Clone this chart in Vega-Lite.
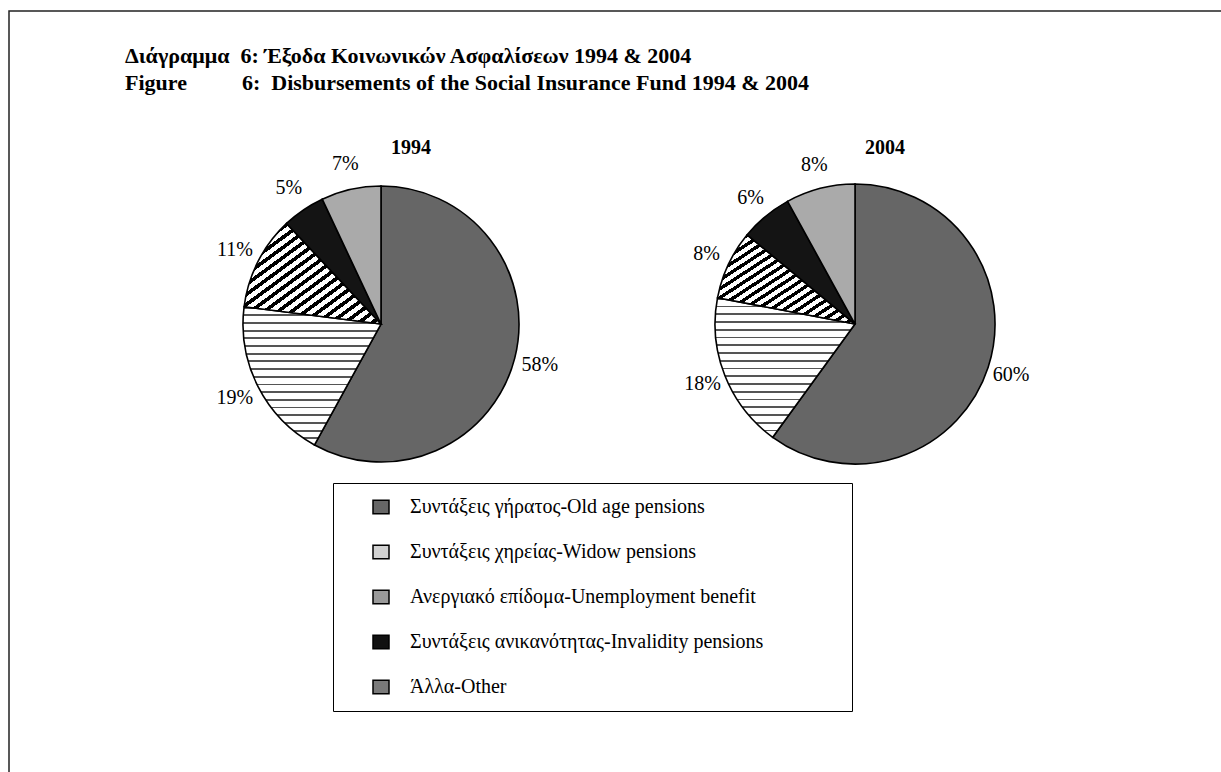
{
  "$schema": "https://vega.github.io/schema/vega-lite/v6.json",
  "width": 1213,
  "height": 762,
  "autosize": {"type": "none"},
  "padding": {"left": 9, "top": 11, "right": -1, "bottom": -1},
  "background": "white",
  "title": {
    "text": [
      "Διάγραμμα\u00a0 6: Έξοδα Κοινωνικών Ασφαλίσεων 1994 & 2004",
      "Figure\u00a0\u00a0\u00a0\u00a0\u00a0\u00a0\u00a0\u00a0\u00a0 6:\u00a0 Disbursements of the Social Insurance Fund 1994 & 2004"
    ],
    "anchor": "start",
    "frame": "group",
    "font": "Liberation Serif",
    "fontSize": 22,
    "fontWeight": "bold",
    "color": "black",
    "lineHeight": 27,
    "baseline": "top",
    "offset": 0,
    "dx": 116,
    "dy": 84
  },
  "data": {
    "values": [
      {"year": "1994", "cat": "Συντάξεις γήρατος-Old age pensions", "ord": 1, "v": 0.58},
      {"year": "1994", "cat": "Συντάξεις χηρείας-Widow pensions", "ord": 2, "v": 0.19},
      {"year": "1994", "cat": "Άλλα-Other", "ord": 3, "v": 0.11},
      {"year": "1994", "cat": "Συντάξεις ανικανότητας-Invalidity pensions", "ord": 4, "v": 0.05},
      {"year": "1994", "cat": "Ανεργιακό επίδομα-Unemployment benefit", "ord": 5, "v": 0.07},
      {"year": "2004", "cat": "Συντάξεις γήρατος-Old age pensions", "ord": 1, "v": 0.60},
      {"year": "2004", "cat": "Συντάξεις χηρείας-Widow pensions", "ord": 2, "v": 0.18},
      {"year": "2004", "cat": "Άλλα-Other", "ord": 3, "v": 0.08},
      {"year": "2004", "cat": "Συντάξεις ανικανότητας-Invalidity pensions", "ord": 4, "v": 0.06},
      {"year": "2004", "cat": "Ανεργιακό επίδομα-Unemployment benefit", "ord": 5, "v": 0.08}
    ]
  },
  "encoding": {
    "x": {"field": "year", "type": "nominal", "scale": {"type": "point", "domain": ["1994", "2004"], "padding": 0.7795, "align": 0.5034}, "axis": null},
    "y": {"datum": "pies", "type": "nominal", "scale": {"type": "point", "align": 0.4108}, "axis": null}
  },
  "layer": [
    {
      "transform": [{"filter": "datum.year === '1994'"}],
      "mark": {"type": "arc", "outerRadius": 138, "stroke": "black", "strokeWidth": 1.6},
      "encoding": {
        "theta": {"field": "v", "type": "quantitative", "stack": true, "scale": {"domain": [0, 1]}},
        "order": {"field": "ord", "type": "quantitative", "sort": "ascending"},
        "detail": {"field": "cat", "type": "nominal"},
        "fill": {
          "condition": [
            {"test": "datum.ord === 2", "value": {"gradient": "linear", "x1": 0, "y1": 0, "x2": 0, "y2": 1, "stops": [
                {"offset": 0, "color": "#555"}, {"offset": 0.0139, "color": "#555"}, {"offset": 0.0139, "color": "#fff"}, {"offset": 0.0556, "color": "#fff"},
                {"offset": 0.0556, "color": "#555"}, {"offset": 0.0694, "color": "#555"}, {"offset": 0.0694, "color": "#fff"}, {"offset": 0.1111, "color": "#fff"},
                {"offset": 0.1111, "color": "#555"}, {"offset": 0.125, "color": "#555"}, {"offset": 0.125, "color": "#fff"}, {"offset": 0.1667, "color": "#fff"},
                {"offset": 0.1667, "color": "#555"}, {"offset": 0.1806, "color": "#555"}, {"offset": 0.1806, "color": "#fff"}, {"offset": 0.2222, "color": "#fff"},
                {"offset": 0.2222, "color": "#555"}, {"offset": 0.2361, "color": "#555"}, {"offset": 0.2361, "color": "#fff"}, {"offset": 0.2778, "color": "#fff"},
                {"offset": 0.2778, "color": "#555"}, {"offset": 0.2917, "color": "#555"}, {"offset": 0.2917, "color": "#fff"}, {"offset": 0.3333, "color": "#fff"},
                {"offset": 0.3333, "color": "#555"}, {"offset": 0.3472, "color": "#555"}, {"offset": 0.3472, "color": "#fff"}, {"offset": 0.3889, "color": "#fff"},
                {"offset": 0.3889, "color": "#555"}, {"offset": 0.4028, "color": "#555"}, {"offset": 0.4028, "color": "#fff"}, {"offset": 0.4444, "color": "#fff"},
                {"offset": 0.4444, "color": "#555"}, {"offset": 0.4583, "color": "#555"}, {"offset": 0.4583, "color": "#fff"}, {"offset": 0.5, "color": "#fff"},
                {"offset": 0.5, "color": "#555"}, {"offset": 0.5139, "color": "#555"}, {"offset": 0.5139, "color": "#fff"}, {"offset": 0.5556, "color": "#fff"},
                {"offset": 0.5556, "color": "#555"}, {"offset": 0.5694, "color": "#555"}, {"offset": 0.5694, "color": "#fff"}, {"offset": 0.6111, "color": "#fff"},
                {"offset": 0.6111, "color": "#555"}, {"offset": 0.625, "color": "#555"}, {"offset": 0.625, "color": "#fff"}, {"offset": 0.6667, "color": "#fff"},
                {"offset": 0.6667, "color": "#555"}, {"offset": 0.6806, "color": "#555"}, {"offset": 0.6806, "color": "#fff"}, {"offset": 0.7222, "color": "#fff"},
                {"offset": 0.7222, "color": "#555"}, {"offset": 0.7361, "color": "#555"}, {"offset": 0.7361, "color": "#fff"}, {"offset": 0.7778, "color": "#fff"},
                {"offset": 0.7778, "color": "#555"}, {"offset": 0.7917, "color": "#555"}, {"offset": 0.7917, "color": "#fff"}, {"offset": 0.8333, "color": "#fff"},
                {"offset": 0.8333, "color": "#555"}, {"offset": 0.8472, "color": "#555"}, {"offset": 0.8472, "color": "#fff"}, {"offset": 0.8889, "color": "#fff"},
                {"offset": 0.8889, "color": "#555"}, {"offset": 0.9028, "color": "#555"}, {"offset": 0.9028, "color": "#fff"}, {"offset": 0.9444, "color": "#fff"},
                {"offset": 0.9444, "color": "#555"}, {"offset": 0.9583, "color": "#555"}, {"offset": 0.9583, "color": "#fff"}, {"offset": 1, "color": "#fff"}
              ]}},
            {"test": "datum.ord === 3", "value": {"gradient": "linear", "x1": 0, "y1": 0, "x2": 1, "y2": 1, "stops": [
                {"offset": 0, "color": "#000"}, {"offset": 0.0225, "color": "#000"}, {"offset": 0.0225, "color": "#fff"}, {"offset": 0.05, "color": "#fff"},
                {"offset": 0.05, "color": "#000"}, {"offset": 0.0725, "color": "#000"}, {"offset": 0.0725, "color": "#fff"}, {"offset": 0.1, "color": "#fff"},
                {"offset": 0.1, "color": "#000"}, {"offset": 0.1225, "color": "#000"}, {"offset": 0.1225, "color": "#fff"}, {"offset": 0.15, "color": "#fff"},
                {"offset": 0.15, "color": "#000"}, {"offset": 0.1725, "color": "#000"}, {"offset": 0.1725, "color": "#fff"}, {"offset": 0.2, "color": "#fff"},
                {"offset": 0.2, "color": "#000"}, {"offset": 0.2225, "color": "#000"}, {"offset": 0.2225, "color": "#fff"}, {"offset": 0.25, "color": "#fff"},
                {"offset": 0.25, "color": "#000"}, {"offset": 0.2725, "color": "#000"}, {"offset": 0.2725, "color": "#fff"}, {"offset": 0.3, "color": "#fff"},
                {"offset": 0.3, "color": "#000"}, {"offset": 0.3225, "color": "#000"}, {"offset": 0.3225, "color": "#fff"}, {"offset": 0.35, "color": "#fff"},
                {"offset": 0.35, "color": "#000"}, {"offset": 0.3725, "color": "#000"}, {"offset": 0.3725, "color": "#fff"}, {"offset": 0.4, "color": "#fff"},
                {"offset": 0.4, "color": "#000"}, {"offset": 0.4225, "color": "#000"}, {"offset": 0.4225, "color": "#fff"}, {"offset": 0.45, "color": "#fff"},
                {"offset": 0.45, "color": "#000"}, {"offset": 0.4725, "color": "#000"}, {"offset": 0.4725, "color": "#fff"}, {"offset": 0.5, "color": "#fff"},
                {"offset": 0.5, "color": "#000"}, {"offset": 0.5225, "color": "#000"}, {"offset": 0.5225, "color": "#fff"}, {"offset": 0.55, "color": "#fff"},
                {"offset": 0.55, "color": "#000"}, {"offset": 0.5725, "color": "#000"}, {"offset": 0.5725, "color": "#fff"}, {"offset": 0.6, "color": "#fff"},
                {"offset": 0.6, "color": "#000"}, {"offset": 0.6225, "color": "#000"}, {"offset": 0.6225, "color": "#fff"}, {"offset": 0.65, "color": "#fff"},
                {"offset": 0.65, "color": "#000"}, {"offset": 0.6725, "color": "#000"}, {"offset": 0.6725, "color": "#fff"}, {"offset": 0.7, "color": "#fff"},
                {"offset": 0.7, "color": "#000"}, {"offset": 0.7225, "color": "#000"}, {"offset": 0.7225, "color": "#fff"}, {"offset": 0.75, "color": "#fff"},
                {"offset": 0.75, "color": "#000"}, {"offset": 0.7725, "color": "#000"}, {"offset": 0.7725, "color": "#fff"}, {"offset": 0.8, "color": "#fff"},
                {"offset": 0.8, "color": "#000"}, {"offset": 0.8225, "color": "#000"}, {"offset": 0.8225, "color": "#fff"}, {"offset": 0.85, "color": "#fff"},
                {"offset": 0.85, "color": "#000"}, {"offset": 0.8725, "color": "#000"}, {"offset": 0.8725, "color": "#fff"}, {"offset": 0.9, "color": "#fff"},
                {"offset": 0.9, "color": "#000"}, {"offset": 0.9225, "color": "#000"}, {"offset": 0.9225, "color": "#fff"}, {"offset": 0.95, "color": "#fff"},
                {"offset": 0.95, "color": "#000"}, {"offset": 0.9725, "color": "#000"}, {"offset": 0.9725, "color": "#fff"}, {"offset": 1, "color": "#fff"}
              ]}},
            {"test": "datum.ord === 4", "value": "#141414"},
            {"test": "datum.ord === 5", "value": "#aaaaaa"}
          ],
          "value": "#666666"
        }
      }
    },
    {
      "transform": [{"filter": "datum.year === '1994'"}],
      "mark": {"type": "text", "radius": 164, "font": "Liberation Serif", "fontSize": 20, "color": "black"},
      "encoding": {
        "theta": {"field": "v", "type": "quantitative", "stack": true, "scale": {"domain": [0, 1]}},
        "order": {"field": "ord", "type": "quantitative", "sort": "ascending"},
        "detail": {"field": "cat", "type": "nominal"},
        "text": {"field": "v", "type": "quantitative", "format": ".0%"}
      }
    },
    {
      "transform": [{"filter": "datum.year === '2004'"}],
      "mark": {"type": "arc", "outerRadius": 140, "stroke": "black", "strokeWidth": 1.6},
      "encoding": {
        "theta": {"field": "v", "type": "quantitative", "stack": true, "scale": {"domain": [0, 1]}},
        "order": {"field": "ord", "type": "quantitative", "sort": "ascending"},
        "detail": {"field": "cat", "type": "nominal"},
        "fill": {
          "condition": [
            {"test": "datum.ord === 2", "value": {"gradient": "linear", "x1": 0, "y1": 0, "x2": 0, "y2": 1, "stops": [
                {"offset": 0, "color": "#555"}, {"offset": 0.0139, "color": "#555"}, {"offset": 0.0139, "color": "#fff"}, {"offset": 0.0556, "color": "#fff"},
                {"offset": 0.0556, "color": "#555"}, {"offset": 0.0694, "color": "#555"}, {"offset": 0.0694, "color": "#fff"}, {"offset": 0.1111, "color": "#fff"},
                {"offset": 0.1111, "color": "#555"}, {"offset": 0.125, "color": "#555"}, {"offset": 0.125, "color": "#fff"}, {"offset": 0.1667, "color": "#fff"},
                {"offset": 0.1667, "color": "#555"}, {"offset": 0.1806, "color": "#555"}, {"offset": 0.1806, "color": "#fff"}, {"offset": 0.2222, "color": "#fff"},
                {"offset": 0.2222, "color": "#555"}, {"offset": 0.2361, "color": "#555"}, {"offset": 0.2361, "color": "#fff"}, {"offset": 0.2778, "color": "#fff"},
                {"offset": 0.2778, "color": "#555"}, {"offset": 0.2917, "color": "#555"}, {"offset": 0.2917, "color": "#fff"}, {"offset": 0.3333, "color": "#fff"},
                {"offset": 0.3333, "color": "#555"}, {"offset": 0.3472, "color": "#555"}, {"offset": 0.3472, "color": "#fff"}, {"offset": 0.3889, "color": "#fff"},
                {"offset": 0.3889, "color": "#555"}, {"offset": 0.4028, "color": "#555"}, {"offset": 0.4028, "color": "#fff"}, {"offset": 0.4444, "color": "#fff"},
                {"offset": 0.4444, "color": "#555"}, {"offset": 0.4583, "color": "#555"}, {"offset": 0.4583, "color": "#fff"}, {"offset": 0.5, "color": "#fff"},
                {"offset": 0.5, "color": "#555"}, {"offset": 0.5139, "color": "#555"}, {"offset": 0.5139, "color": "#fff"}, {"offset": 0.5556, "color": "#fff"},
                {"offset": 0.5556, "color": "#555"}, {"offset": 0.5694, "color": "#555"}, {"offset": 0.5694, "color": "#fff"}, {"offset": 0.6111, "color": "#fff"},
                {"offset": 0.6111, "color": "#555"}, {"offset": 0.625, "color": "#555"}, {"offset": 0.625, "color": "#fff"}, {"offset": 0.6667, "color": "#fff"},
                {"offset": 0.6667, "color": "#555"}, {"offset": 0.6806, "color": "#555"}, {"offset": 0.6806, "color": "#fff"}, {"offset": 0.7222, "color": "#fff"},
                {"offset": 0.7222, "color": "#555"}, {"offset": 0.7361, "color": "#555"}, {"offset": 0.7361, "color": "#fff"}, {"offset": 0.7778, "color": "#fff"},
                {"offset": 0.7778, "color": "#555"}, {"offset": 0.7917, "color": "#555"}, {"offset": 0.7917, "color": "#fff"}, {"offset": 0.8333, "color": "#fff"},
                {"offset": 0.8333, "color": "#555"}, {"offset": 0.8472, "color": "#555"}, {"offset": 0.8472, "color": "#fff"}, {"offset": 0.8889, "color": "#fff"},
                {"offset": 0.8889, "color": "#555"}, {"offset": 0.9028, "color": "#555"}, {"offset": 0.9028, "color": "#fff"}, {"offset": 0.9444, "color": "#fff"},
                {"offset": 0.9444, "color": "#555"}, {"offset": 0.9583, "color": "#555"}, {"offset": 0.9583, "color": "#fff"}, {"offset": 1, "color": "#fff"}
              ]}},
            {"test": "datum.ord === 3", "value": {"gradient": "linear", "x1": 0, "y1": 0, "x2": 1, "y2": 1, "stops": [
                {"offset": 0, "color": "#000"}, {"offset": 0.0225, "color": "#000"}, {"offset": 0.0225, "color": "#fff"}, {"offset": 0.05, "color": "#fff"},
                {"offset": 0.05, "color": "#000"}, {"offset": 0.0725, "color": "#000"}, {"offset": 0.0725, "color": "#fff"}, {"offset": 0.1, "color": "#fff"},
                {"offset": 0.1, "color": "#000"}, {"offset": 0.1225, "color": "#000"}, {"offset": 0.1225, "color": "#fff"}, {"offset": 0.15, "color": "#fff"},
                {"offset": 0.15, "color": "#000"}, {"offset": 0.1725, "color": "#000"}, {"offset": 0.1725, "color": "#fff"}, {"offset": 0.2, "color": "#fff"},
                {"offset": 0.2, "color": "#000"}, {"offset": 0.2225, "color": "#000"}, {"offset": 0.2225, "color": "#fff"}, {"offset": 0.25, "color": "#fff"},
                {"offset": 0.25, "color": "#000"}, {"offset": 0.2725, "color": "#000"}, {"offset": 0.2725, "color": "#fff"}, {"offset": 0.3, "color": "#fff"},
                {"offset": 0.3, "color": "#000"}, {"offset": 0.3225, "color": "#000"}, {"offset": 0.3225, "color": "#fff"}, {"offset": 0.35, "color": "#fff"},
                {"offset": 0.35, "color": "#000"}, {"offset": 0.3725, "color": "#000"}, {"offset": 0.3725, "color": "#fff"}, {"offset": 0.4, "color": "#fff"},
                {"offset": 0.4, "color": "#000"}, {"offset": 0.4225, "color": "#000"}, {"offset": 0.4225, "color": "#fff"}, {"offset": 0.45, "color": "#fff"},
                {"offset": 0.45, "color": "#000"}, {"offset": 0.4725, "color": "#000"}, {"offset": 0.4725, "color": "#fff"}, {"offset": 0.5, "color": "#fff"},
                {"offset": 0.5, "color": "#000"}, {"offset": 0.5225, "color": "#000"}, {"offset": 0.5225, "color": "#fff"}, {"offset": 0.55, "color": "#fff"},
                {"offset": 0.55, "color": "#000"}, {"offset": 0.5725, "color": "#000"}, {"offset": 0.5725, "color": "#fff"}, {"offset": 0.6, "color": "#fff"},
                {"offset": 0.6, "color": "#000"}, {"offset": 0.6225, "color": "#000"}, {"offset": 0.6225, "color": "#fff"}, {"offset": 0.65, "color": "#fff"},
                {"offset": 0.65, "color": "#000"}, {"offset": 0.6725, "color": "#000"}, {"offset": 0.6725, "color": "#fff"}, {"offset": 0.7, "color": "#fff"},
                {"offset": 0.7, "color": "#000"}, {"offset": 0.7225, "color": "#000"}, {"offset": 0.7225, "color": "#fff"}, {"offset": 0.75, "color": "#fff"},
                {"offset": 0.75, "color": "#000"}, {"offset": 0.7725, "color": "#000"}, {"offset": 0.7725, "color": "#fff"}, {"offset": 0.8, "color": "#fff"},
                {"offset": 0.8, "color": "#000"}, {"offset": 0.8225, "color": "#000"}, {"offset": 0.8225, "color": "#fff"}, {"offset": 0.85, "color": "#fff"},
                {"offset": 0.85, "color": "#000"}, {"offset": 0.8725, "color": "#000"}, {"offset": 0.8725, "color": "#fff"}, {"offset": 0.9, "color": "#fff"},
                {"offset": 0.9, "color": "#000"}, {"offset": 0.9225, "color": "#000"}, {"offset": 0.9225, "color": "#fff"}, {"offset": 0.95, "color": "#fff"},
                {"offset": 0.95, "color": "#000"}, {"offset": 0.9725, "color": "#000"}, {"offset": 0.9725, "color": "#fff"}, {"offset": 1, "color": "#fff"}
              ]}},
            {"test": "datum.ord === 4", "value": "#141414"},
            {"test": "datum.ord === 5", "value": "#aaaaaa"}
          ],
          "value": "#666666"
        }
      }
    },
    {
      "transform": [{"filter": "datum.year === '2004'"}],
      "mark": {"type": "text", "radius": 164, "font": "Liberation Serif", "fontSize": 20, "color": "black"},
      "encoding": {
        "theta": {"field": "v", "type": "quantitative", "stack": true, "scale": {"domain": [0, 1]}},
        "order": {"field": "ord", "type": "quantitative", "sort": "ascending"},
        "detail": {"field": "cat", "type": "nominal"},
        "text": {"field": "v", "type": "quantitative", "format": ".0%"}
      }
    },
    {
      "transform": [{"filter": "datum.ord === 1"}],
      "mark": {"type": "text", "font": "Liberation Serif", "fontSize": 20, "fontWeight": "bold", "color": "black", "dy": -176, "dx": 30},
      "encoding": {
        "text": {"field": "year", "type": "nominal"}
      }
    },
    {
      "transform": [{"filter": "false"}],
      "mark": {"type": "square"},
      "encoding": {
        "fill": {
          "field": "cat", "type": "nominal",
          "scale": {
            "domain": ["Συντάξεις γήρατος-Old age pensions", "Συντάξεις χηρείας-Widow pensions", "Ανεργιακό επίδομα-Unemployment benefit", "Συντάξεις ανικανότητας-Invalidity pensions", "Άλλα-Other"],
            "range": ["#666666", "#d2d2d2", "#9a9a9a", "#111111", "#7a7a7a"]
          },
          "legend": {
            "title": ".",
            "titleOrient": "right",
            "titleOpacity": 0,
            "titleFontSize": 8,
            "titlePadding": 72,
            "orient": "none",
            "legendX": 324,
            "legendY": 472,
            "padding": 14,
            "strokeColor": "black",
            "fillColor": "white",
            "symbolType": "M-1,-0.85H1V0.85H-1Z",
            "symbolSize": 256,
            "symbolStrokeColor": "black",
            "symbolStrokeWidth": 1.5,
            "symbolOpacity": 1,
            "symbolOffset": 24,
            "labelFont": "Liberation Serif",
            "labelFontSize": 20,
            "labelColor": "black",
            "labelOffset": 19,
            "labelLimit": 1000,
            "rowPadding": 25
          }
        }
      }
    }
  ],
  "resolve": {"scale": {"fill": "independent"}},
  "config": {
    "view": {"stroke": "#222", "strokeWidth": 1.5}
  }
}
